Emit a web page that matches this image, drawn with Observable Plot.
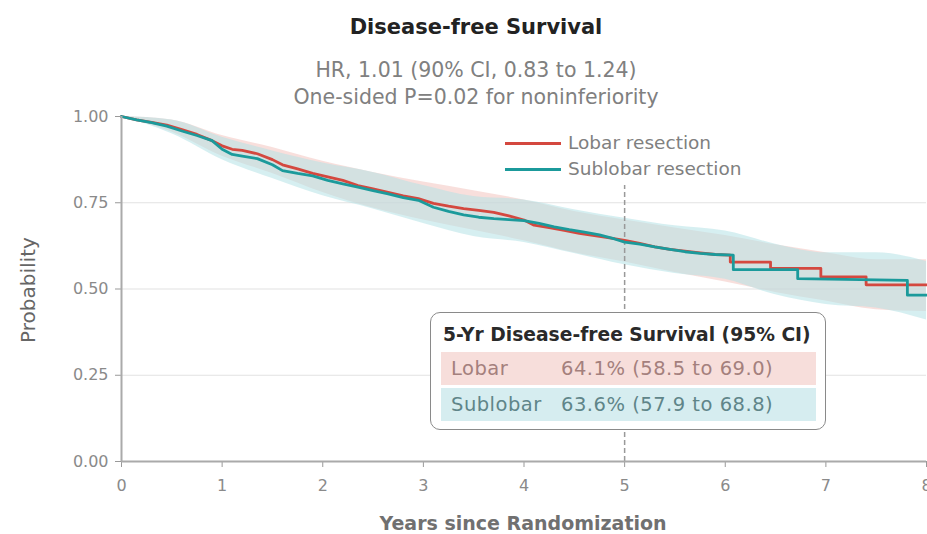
<!DOCTYPE html>
<html>
<head>
<meta charset="utf-8">
<script src="https://cdn.jsdelivr.net/npm/d3@7"></script>
<script src="https://cdn.jsdelivr.net/npm/@observablehq/plot@0.6"></script>
<style>
  html, body { margin: 0; padding: 0; background: #fff; }
  #wrap { position: relative; width: 927px; height: 534px; overflow: hidden; font-family: "DejaVu Sans", sans-serif; }
  .abs { position: absolute; white-space: nowrap; }
  #title { left: 0; width: 952px; top: 13px; text-align: center; font-size: 21px; font-weight: 700; color: #222; line-height: 28px; }
  .sub { left: 0; width: 952px; text-align: center; font-size: 20.5px; color: #808080; line-height: 24px; }
  #chart { position: absolute; left: 0; top: 108px; }
  #ylab { left: -72px; top: 279px; width: 200px; line-height: 22px; text-align: center; transform: rotate(-90deg); font-size: 20px; color: #666; }
  #xlab { left: 273px; width: 500px; top: 510px; line-height: 26px; text-align: center; font-size: 19px; font-weight: 700; color: #707070; }
  .leg { left: 505px; font-size: 18.5px; color: #808080; line-height: 22px; }
  .leg span.sw { display: inline-block; width: 56px; height: 3px; vertical-align: middle; margin-right: 7px; position: relative; top: -1px; }
  #box { left: 430px; top: 312px; width: 394px; height: 116px; border: 1.5px solid #8a8a8a; border-radius: 10px; background: #fff; }
  #boxtitle { left: 12px; top: 9px; font-size: 18.7px; font-weight: 700; color: #2a2a2a; line-height: 26px; }
  .row { left: 10px; width: 375px; height: 33px; line-height: 33px; font-size: 19.5px; letter-spacing: 0.5px; }
  .row .nm { display: inline-block; width: 110px; padding-left: 10px; }
</style>
</head>
<body>
<div id="wrap">
  <div id="title" class="abs">Disease-free Survival</div>
  <div class="abs sub" style="top:58px">HR, 1.01 (90% CI, 0.83 to 1.24)</div>
  <div class="abs sub" style="top:85px">One-sided P=0.02 for noninferiority</div>
  <div id="chart"></div>
  <div id="ylab" class="abs">Probability</div>
  <div id="xlab" class="abs">Years since Randomization</div>
  <div class="abs leg" style="top:132px"><span class="sw" style="background:#d4483f"></span>Lobar resection</div>
  <div class="abs leg" style="top:158px"><span class="sw" style="background:#1b9a9b"></span>Sublobar resection</div>
  <div id="box" class="abs">
    <div id="boxtitle" class="abs">5-Yr Disease-free Survival (95% CI)</div>
    <div class="abs row" style="top:39px;background:#f7dedb;color:#a4807d"><span class="nm">Lobar</span>64.1% (58.5 to 69.0)</div>
    <div class="abs row" style="top:75px;background:#d6edf0;color:#5f8589"><span class="nm">Sublobar</span>63.6% (57.9 to 68.8)</div>
  </div>
</div>
<script>
// Kaplan-Meier curves (repeated times mark visible vertical drops)
const lobarTime = [0, 0.15, 0.3, 0.45, 0.6, 0.75, 0.9, 1.0, 1.1, 1.2, 1.35, 1.5, 1.6, 1.75, 1.9, 2.05, 2.2, 2.35, 2.5, 2.65, 2.8, 2.95, 3.1, 3.25, 3.4, 3.55, 3.7, 3.85, 4.0, 4.1, 4.25, 4.4, 4.55, 4.7, 4.85, 5.0, 5.15, 5.3, 5.45, 5.6, 5.75, 5.9, 6.05, 6.05, 6.45, 6.45, 6.95, 6.95, 7.4, 7.4, 8.0];
const lobarSurv = [1.0, 0.99, 0.983, 0.975, 0.962, 0.948, 0.93, 0.915, 0.905, 0.902, 0.892, 0.875, 0.86, 0.848, 0.835, 0.825, 0.815, 0.80, 0.79, 0.78, 0.77, 0.762, 0.748, 0.74, 0.733, 0.728, 0.722, 0.712, 0.70, 0.685, 0.678, 0.67, 0.661, 0.655, 0.648, 0.641, 0.632, 0.622, 0.615, 0.61, 0.605, 0.6, 0.598, 0.578, 0.578, 0.56, 0.56, 0.535, 0.535, 0.512, 0.512];

const sublobarTime = [0, 0.15, 0.3, 0.45, 0.6, 0.75, 0.9, 1.0, 1.1, 1.2, 1.35, 1.5, 1.6, 1.75, 1.9, 2.05, 2.2, 2.35, 2.5, 2.65, 2.8, 2.95, 3.1, 3.25, 3.4, 3.55, 3.7, 3.85, 4.0, 4.15, 4.3, 4.45, 4.6, 4.75, 4.9, 5.0, 5.15, 5.3, 5.45, 5.6, 5.75, 5.9, 6.08, 6.08, 6.72, 6.72, 7.81, 7.81, 8.0];
const sublobarSurv = [1.0, 0.99, 0.982, 0.972, 0.958, 0.945, 0.93, 0.905, 0.89, 0.885, 0.878, 0.86, 0.843, 0.835, 0.828, 0.815, 0.805, 0.795, 0.785, 0.776, 0.765, 0.757, 0.737, 0.725, 0.715, 0.708, 0.704, 0.701, 0.698, 0.69, 0.68, 0.672, 0.665, 0.657, 0.645, 0.636, 0.63, 0.622, 0.615, 0.608, 0.603, 0.6, 0.598, 0.556, 0.556, 0.53, 0.525, 0.482, 0.482];

// Confidence bands
const ciTime = [0, 0.5, 1, 1.5, 2, 2.5, 3, 3.5, 4, 4.5, 5, 5.5, 6, 6.5, 7, 7.5, 8];
const lobarLo = [1.0, 0.955, 0.885, 0.835, 0.78, 0.735, 0.70, 0.67, 0.64, 0.605, 0.578, 0.548, 0.52, 0.49, 0.465, 0.44, 0.435];
const lobarHi = [1.0, 0.99, 0.945, 0.91, 0.87, 0.838, 0.81, 0.785, 0.758, 0.725, 0.70, 0.677, 0.655, 0.628, 0.605, 0.585, 0.585];
const sublobarLo = [1.0, 0.95, 0.875, 0.82, 0.77, 0.732, 0.69, 0.652, 0.635, 0.603, 0.57, 0.545, 0.528, 0.483, 0.455, 0.445, 0.41];
const sublobarHi = [1.0, 0.99, 0.94, 0.9, 0.865, 0.838, 0.8, 0.768, 0.758, 0.73, 0.705, 0.683, 0.668, 0.63, 0.605, 0.605, 0.58];

const xTicks = [0, 1, 2, 3, 4, 5, 6, 7, 8];
const yTicks = [0, 0.25, 0.5, 0.75, 1.0];

const lobar = lobarTime.map((t, i) => ({t, s: lobarSurv[i]}));
const sublobar = sublobarTime.map((t, i) => ({t, s: sublobarSurv[i]}));
const ci = ciTime.map((t, i) => ({t, llo: lobarLo[i], lhi: lobarHi[i], slo: sublobarLo[i], shi: sublobarHi[i]}));

const chart = Plot.plot({
  width: 927,
  height: 426,
  marginTop: 8,
  marginBottom: 73,
  marginLeft: 121,
  marginRight: 1,
  style: {fontFamily: "'DejaVu Sans', sans-serif", fontSize: "16px", color: "#888", background: "transparent", overflow: "visible"},
  x: {domain: [0, 8]},
  y: {domain: [0, 1]},
  marks: [
    Plot.gridY([0.25, 0.5, 0.75], {stroke: "#e2e2e2", strokeOpacity: 1, strokeWidth: 1.2}),
    Plot.areaY(ci, {x: "t", y1: "llo", y2: "lhi", fill: "#f2c4bf", fillOpacity: 0.55, curve: "monotone-x"}),
    Plot.areaY(ci, {x: "t", y1: "slo", y2: "shi", fill: "#b5e2e6", fillOpacity: 0.55, curve: "monotone-x"}),
    Plot.ruleX([5], {y1: 0, y2: 0.8, stroke: "#999", strokeWidth: 1.5, strokeDasharray: "5,3"}),
    Plot.line(lobar, {x: "t", y: "s", curve: "linear", stroke: "#d4483f", strokeWidth: 2.8}),
    Plot.line(sublobar, {x: "t", y: "s", curve: "linear", stroke: "#1b9a9b", strokeWidth: 2.8}),
    Plot.axisY(yTicks, {tickFormat: d3.format(".2f"), tickSize: 6, tickPadding: 7, stroke: "#999", fill: "#8a8a8a", fontSize: 16, label: null}),
    Plot.axisX(xTicks, {tickSize: 6, tickPadding: 12, stroke: "#999", fill: "#8a8a8a", fontSize: 16, label: null}),
    Plot.ruleY([0], {stroke: "#aaa", strokeWidth: 2}),
    Plot.ruleX([0], {y1: 0, y2: 1, stroke: "#aaa", strokeWidth: 2})
  ]
});
document.getElementById("chart").appendChild(chart);
</script>
</body>
</html>
